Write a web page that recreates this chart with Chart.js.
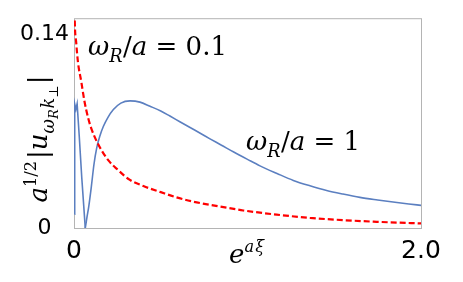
<!DOCTYPE html>
<html><head><meta charset="utf-8">
<script src="https://cdn.jsdelivr.net/npm/chart.js@4/dist/chart.umd.min.js"></script>
<style>html,body{margin:0;padding:0;background:#fff;}#wrap{width:463px;height:282px;}</style>
</head><body><div id="wrap"><canvas id="c" width="463" height="282"></canvas></div>
<script>
// Blue solid curve (omega_R/a = 1): oscillating start, then smooth hump
const blueX = [0.003, 0.004, 0.011, 0.018, 0.03, 0.045, 0.065, 0.075, 0.085, 0.1, 0.115, 0.131, 0.15, 0.169, 0.195, 0.227, 0.27, 0.323, 0.38, 0.438, 0.50, 0.553, 0.61, 0.669, 0.73, 0.784, 0.85, 0.918, 1.0, 1.072, 1.17, 1.264, 1.36, 1.456, 1.55, 1.648, 1.75, 1.85, 1.93, 2.0];
const blueY = [0.010, 0.090, 0.086, 0.090, 0.067, 0.036, 0.0, 0.008, 0.0155, 0.030, 0.046, 0.058, 0.067, 0.0735, 0.080, 0.0858, 0.0905, 0.0921, 0.0912, 0.0882, 0.0848, 0.0811, 0.0770, 0.0728, 0.0685, 0.0646, 0.0600, 0.0552, 0.0497, 0.0450, 0.0395, 0.0345, 0.0306, 0.0272, 0.0246, 0.0222, 0.0203, 0.0186, 0.0174, 0.0164];
const blueSplit = 0.065; // sharp zero of the blue curve
// Red dashed curve (omega_R/a = 0.1)
const redX = [0.002, 0.004, 0.013, 0.023, 0.042, 0.06, 0.081, 0.1, 0.138, 0.196, 0.254, 0.32, 0.40, 0.50, 0.59, 0.69, 0.784, 0.88, 0.976, 1.168, 1.36, 1.55, 1.745, 2.0];
const redY = [0.17, 0.152, 0.134, 0.120, 0.106, 0.092, 0.080, 0.072, 0.061, 0.0493, 0.042, 0.035, 0.0304, 0.026, 0.0222, 0.019, 0.0168, 0.0147, 0.0127, 0.0097, 0.0073, 0.0057, 0.0045, 0.0033];
// Ticks
const xTickValues = [0, 2];
const xTickLabels = ['0', '2.0'];
const yTickValues = [0, 0.14];
const yTickLabels = ['0', '0.14'];

const MATH = '"DejaVu Serif"';
function drawRuns(ctx, runs, x, y, size, measureOnly) {
  let cx = x;
  for (const r of runs) {
    let s = size, dy = 0;
    if (r.l === 1) { s = size * 0.68; dy = size * 0.28; }
    else if (r.l === 2) { s = size * 0.5; dy = size * 0.42; }
    else if (r.l === -1) { s = size * 0.62; dy = -size * 0.42; }
    ctx.font = (r.i ? 'italic ' : '') + s + 'px ' + MATH;
    if (!measureOnly) ctx.fillText(r.t, cx, y + dy);
    cx += ctx.measureText(r.t).width + (r.g || 0) * size;
  }
  return cx - x;
}
const lab1 = [{t:'ω',i:1},{t:'R',i:1,l:1,g:0.02},{t:'/'},{t:'a',i:1},{t:' = 0.1'}];
const lab2 = [{t:'ω',i:1},{t:'R',i:1,l:1,g:0.02},{t:'/'},{t:'a',i:1},{t:' = 1'}];
const xTitle = [{t:'e',i:1},{t:'a',i:1,l:-1,g:0.05},{t:'ξ',i:1,l:-1}];
const yTitle = [{t:'a',i:1},{t:'1/2',l:-1,g:0.08},{t:'|'},{t:'u',i:1},{t:'ω',i:1,l:1},{t:'R',i:1,l:2,g:0.03},{t:'k',i:1,l:1},{t:'⊥',l:2,g:0.05},{t:'|'}];

const deco = {
  id: 'deco',
  beforeDatasetsDraw(chart) {
    const {ctx, chartArea: a} = chart;
    ctx.save();
    ctx.strokeStyle = '#b4b4b4';
    ctx.lineWidth = 1;
    ctx.strokeRect(a.left + 0.5, a.top + 0.5, a.right - a.left, a.bottom - a.top);
    ctx.restore();
  },
  afterDraw(chart) {
    const {ctx} = chart;
    ctx.save();
    ctx.fillStyle = '#000';
    ctx.textBaseline = 'alphabetic';
    ctx.textAlign = 'left';
    drawRuns(ctx, lab1, 88, 55, 26);
    drawRuns(ctx, lab2, 246, 150, 26);
    drawRuns(ctx, xTitle, 229, 263, 26);
    const w = drawRuns(ctx, yTitle, 0, 0, 26, true);
    ctx.translate(47, 139);
    ctx.rotate(-Math.PI / 2);
    drawRuns(ctx, yTitle, -w / 2, 0, 26);
    ctx.restore();
  }
};

const bluePts = blueX.map((x, i) => ({x, y: blueY[i]}));
const blueA = bluePts.filter(p => p.x <= blueSplit);
const blueB = bluePts.filter(p => p.x >= blueSplit);
const blueStyle = { borderColor: '#5b7fc0', borderWidth: 1.6, pointRadius: 0, fill: false };

new Chart(document.getElementById('c'), {
  type: 'line',
  data: {
    datasets: [
      { data: redX.map((x, i) => ({x, y: redY[i]})), borderColor: '#ff0000', borderWidth: 2.2, borderDash: [6, 3], pointRadius: 0, cubicInterpolationMode: 'monotone', fill: false },
      Object.assign({ data: blueA, tension: 0 }, blueStyle),
      Object.assign({ data: blueB, cubicInterpolationMode: 'monotone' }, blueStyle)
    ]
  },
  options: {
    responsive: false,
    animation: false,
    events: [],
    layout: { padding: { top: 13, right: 42, left: 0, bottom: 0 } },
    plugins: { legend: { display: false }, tooltip: { enabled: false }, title: { display: false } },
    scales: {
      x: {
        type: 'linear', min: 0, max: 2,
        grid: { display: false, drawTicks: false }, border: { display: false },
        afterBuildTicks: s => { s.ticks = xTickValues.map(v => ({value: v})); },
        afterFit: s => { s.height = 54; },
        ticks: { color: '#000', padding: 8, maxRotation: 0, autoSkip: false,
          font: { family: '"DejaVu Sans"', size: 25 },
          callback: v => xTickLabels[xTickValues.indexOf(v)] }
      },
      y: {
        type: 'linear', min: 0, max: 0.152,
        grid: { display: false, drawTicks: false }, border: { display: false },
        afterBuildTicks: s => { s.ticks = yTickValues.map(v => ({value: v})); },
        afterFit: s => { s.width = 74; },
        ticks: { color: '#000', padding: 5, crossAlign: 'center', autoSkip: false,
          font: { family: '"DejaVu Sans"', size: 22 },
          callback: v => yTickLabels[yTickValues.indexOf(v)] }
      }
    }
  },
  plugins: [deco]
});
</script></body></html>
